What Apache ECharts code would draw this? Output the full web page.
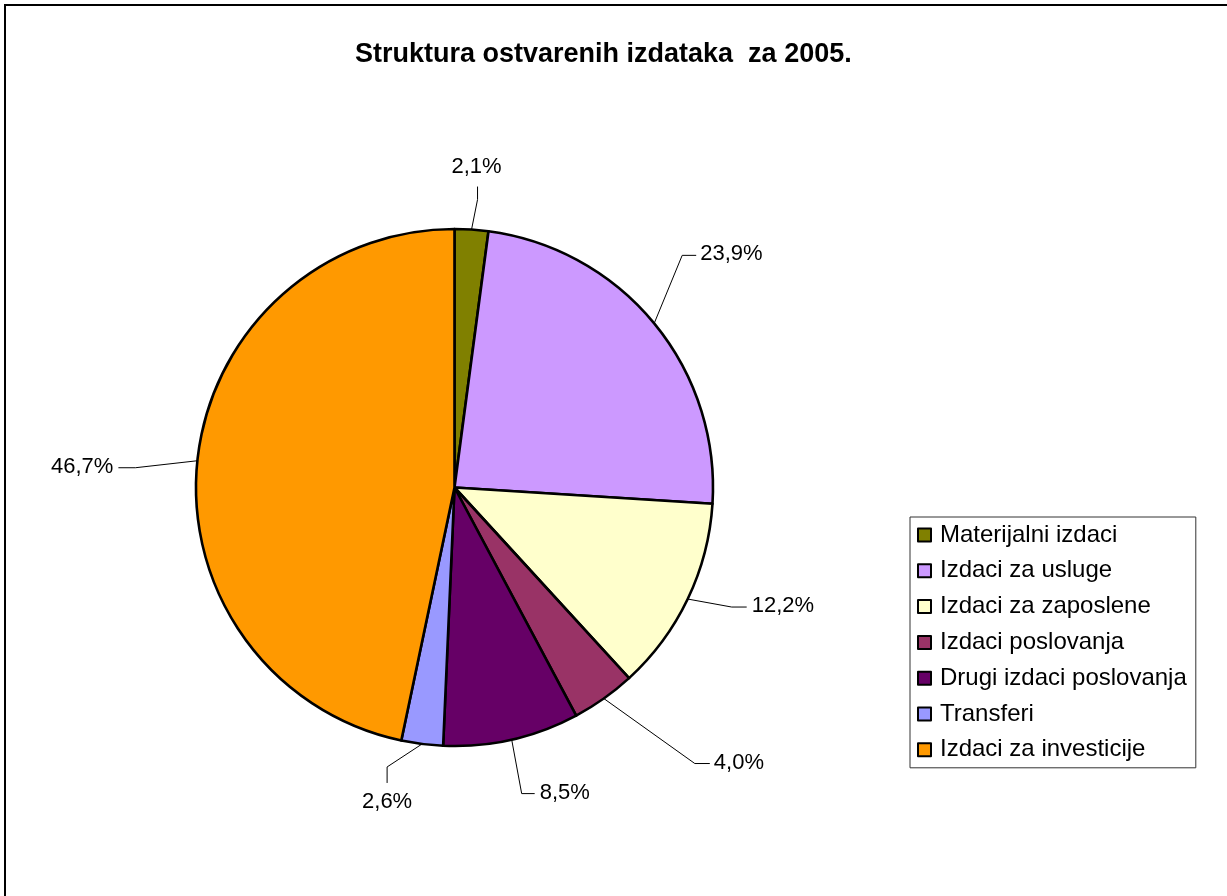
<!DOCTYPE html>
<html>
<head>
<meta charset="utf-8">
<script src="https://cdn.jsdelivr.net/npm/echarts@6/dist/echarts.min.js"></script>
<style>
  html, body { margin: 0; padding: 0; background: #fff; }
  #main { width: 1227px; height: 896px; }
</style>
</head>
<body>
<div id="main"></div>
<script>
(function () {
    // podaci
    var categories = ['Materijalni izdaci', 'Izdaci za usluge', 'Izdaci za zaposlene', 'Izdaci poslovanja',
        'Drugi izdaci poslovanja', 'Transferi', 'Izdaci za investicije'];
    var shares = [2.1, 23.9, 12.2, 4.0, 8.5, 2.6, 46.7];
    var colors = ['#808000', '#CC99FF', '#FFFFCC', '#993366', '#660066', '#9999FF', '#FF9900'];

    // vodilice natpisa: pomak od ruba isjecka, kratki krak, strana teksta
    var guides = [
        { off: [6, -43], stub: [0, 13], side: 'top', gap: 9 },
        { off: [42, -68], stub: [-14, 0], side: 'right', gap: 4 },
        { off: [59, 8], stub: [-15, 0], side: 'right', gap: 5 },
        { off: [106, 65], stub: [-15, 0], side: 'right', gap: 4 },
        { off: [23, 54], stub: [-13, 0], side: 'right', gap: 5 },
        { off: [-35, 39], stub: [0, -16], side: 'bottom', gap: 8 },
        { off: [-79, 7], stub: [17, 0], side: 'left', gap: 5 }
    ];

    var font = 'Liberation Sans, Arial, sans-serif';
    var myChart = echarts.init(document.getElementById('main'));

    var data = categories.map(function (name, i) {
        return { name: name, value: shares[i], itemStyle: { color: colors[i] } };
    });

    var option = {
        animation: false,
        backgroundColor: '#fff',
        title: {
            text: 'Struktura ostvarenih izdataka  za 2005.',
            left: 355,
            top: 41,
            padding: 0,
            textStyle: { fontFamily: font, fontSize: 27, fontWeight: 'bold', color: '#000' }
        },
        legend: {
            orient: 'vertical',
            left: 910,
            top: 517,
            padding: [6, 9, 6, 7],
            borderColor: '#333',
            borderWidth: 1,
            itemWidth: 13,
            itemHeight: 13,
            itemGap: 11.8,
            icon: 'rect',
            selectedMode: false,
            itemStyle: { borderColor: '#000', borderWidth: 2 },
            textStyle: { fontFamily: font, fontSize: 24, lineHeight: 24, color: '#000', padding: [0, 0, 0, 4] },
            data: categories
        },
        graphic: [{
            type: 'rect',
            shape: { x: 5, y: 5, width: 1400, height: 1000 },
            style: { fill: 'none', stroke: '#000', lineWidth: 2 },
            silent: true
        }],
        series: [{
            type: 'pie',
            center: [454.5, 487.5],
            radius: 258.5,
            startAngle: 90,
            clockwise: true,
            avoidLabelOverlap: false,
            emphasis: { disabled: true },
            itemStyle: { borderColor: '#000', borderWidth: 2.6 },
            label: {
                show: true,
                position: 'outside',
                fontFamily: font,
                fontSize: 22,
                lineHeight: 22,
                color: '#000',
                formatter: function (p) {
                    return p.value.toFixed(1).replace('.', ',') + '%';
                }
            },
            labelLine: {
                show: true,
                length: 15,
                length2: 10,
                lineStyle: { color: '#000', width: 1 }
            },
            labelLayout: function (p) {
                var g = guides[p.dataIndex];
                var e = p.labelLinePoints[0];
                var ax = e[0] + g.off[0];
                var ay = e[1] + g.off[1];
                var res = {
                    labelLinePoints: [[e[0], e[1]], [ax + g.stub[0], ay + g.stub[1]], [ax, ay]]
                };
                if (g.side === 'top') {
                    res.x = ax - 1; res.y = ay - g.gap; res.align = 'center'; res.verticalAlign = 'bottom';
                } else if (g.side === 'bottom') {
                    res.x = ax; res.y = ay + g.gap; res.align = 'center'; res.verticalAlign = 'top';
                } else if (g.side === 'right') {
                    res.x = ax + g.gap; res.y = ay - 1; res.align = 'left'; res.verticalAlign = 'middle';
                } else {
                    res.x = ax - g.gap; res.y = ay - 1; res.align = 'right'; res.verticalAlign = 'middle';
                }
                return res;
            },
            data: data
        }]
    };

    myChart.setOption(option);
    window.addEventListener('resize', function () {
        myChart.resize();
    });
})();
</script>
</body>
</html>
